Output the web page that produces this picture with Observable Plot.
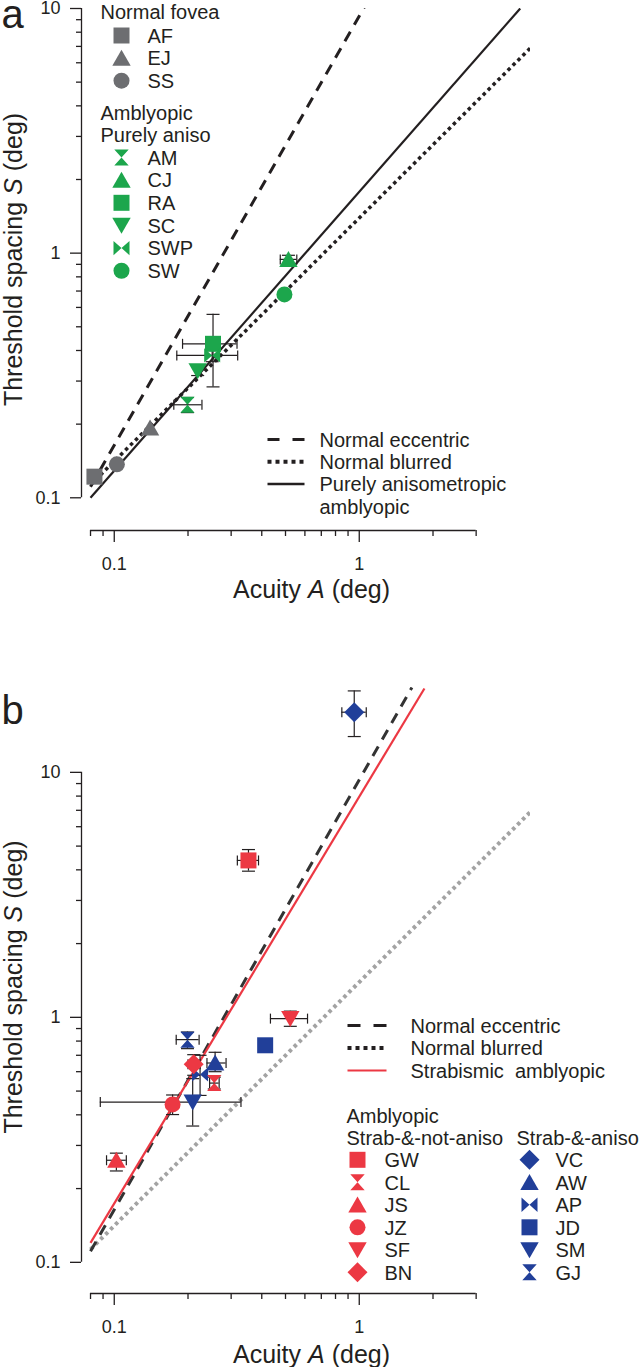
<!DOCTYPE html>
<html>
<head>
<meta charset="utf-8">
<script src="https://cdn.jsdelivr.net/npm/d3@7"></script>
<script src="https://cdn.jsdelivr.net/npm/@observablehq/plot@0.6"></script>
<style>
  body { margin: 0; background: #fff; }
  #chart svg { display: block; }
</style>
</head>
<body>
<div id="chart"></div>
<script>
// ===================== DATA =====================
// Panel a
const aSubjects   = ["AF", "EJ", "SS", "AM", "CJ", "RA", "SC", "SWP", "SW"];
const aGroups     = ["Normal fovea", "Normal fovea", "Normal fovea",
                     "Purely aniso", "Purely aniso", "Purely aniso", "Purely aniso", "Purely aniso", "Purely aniso"];
const aAcuity     = [0.083, 0.140, 0.1025, 0.199, 0.514, 0.253, 0.219, 0.251, 0.495];
const aAcuityLo   = [null, null, null, 0.175, 0.476, 0.190, null, 0.180, null];
const aAcuityHi   = [null, null, null, 0.228, 0.556, 0.317, null, 0.319, null];
const aSpacing    = [0.122, 0.193, 0.137, 0.240, 0.943, 0.426, 0.330, 0.382, 0.678];
const aSpacingLo  = [null, null, null, 0.223, 0.900, 0.284, 0.316, 0.360, null];
const aSpacingHi  = [null, null, null, 0.257, 0.980, 0.562, 0.348, 0.400, null];

// Panel b
const bSubjects   = ["GW", "CL", "JS", "JZ", "SF", "BN", "VC", "AW", "AP", "JD", "SM", "GJ"];
const bGroups     = ["Strab-&-not-aniso", "Strab-&-not-aniso", "Strab-&-not-aniso",
                     "Strab-&-not-aniso", "Strab-&-not-aniso", "Strab-&-not-aniso",
                     "Strab-&-aniso", "Strab-&-aniso", "Strab-&-aniso",
                     "Strab-&-aniso", "Strab-&-aniso", "Strab-&-aniso"];
const bAcuity     = [0.353, 0.256, 0.102, 0.173, 0.523, 0.211, 0.954, 0.258, 0.224, 0.413, 0.209, 0.199];
const bAcuityLo   = [0.318, 0.245, 0.093, 0.165, 0.434, 0.200, 0.849, 0.239, null, null, 0.0877, 0.179];
const bAcuityHi   = [0.388, 0.268, 0.112, 0.181, 0.615, 0.224, 1.068, 0.286, null, null, 0.329, 0.222];
const bSpacing    = [4.37, 0.539, 0.261, 0.441, 0.988, 0.643, 17.6, 0.651, 0.585, 0.769, 0.451, 0.811];
const bSpacingLo  = [3.95, 0.510, 0.236, 0.401, 0.919, 0.580, 14.0, 0.600, 0.480, null, 0.360, 0.745];
const bSpacingHi  = [4.84, 0.570, 0.279, 0.482, 1.060, 0.704, 21.5, 0.720, 0.700, null, 0.562, 0.871];

// Fitted lines (end points, acuity A and spacing S)
const eccentricA = [0.08, 1.64];  const eccentricS = [0.111, 22.2];
const blurredA   = [0.08, 5.0];   const blurredS   = [0.113, 6.9];
const anisoA     = [0.08, 4.54];  const anisoS     = [0.100, 10.0];
const strabA     = [0.08, 1.845]; const strabS     = [0.120, 22.0];

// Axis ticks
const majorTicks  = [0.1, 1, 10];
const xMajorTicks = [0.1, 1];
const xMinorTicks = [0.08, 0.09, 0.2, 0.3, 0.4, 0.5, 0.6, 0.7, 0.8, 0.9, 2, 3];
const yMinorTicks = [0.2, 0.3, 0.4, 0.5, 0.6, 0.7, 0.8, 0.9, 2, 3, 4, 5, 6, 7, 8, 9];
const xAxisExtent = [0.08, 3];
const yAxisExtent = [0.1, 10];

// Texts
const xLabel = "Acuity A (deg)";
const yLabel = "Threshold spacing S (deg)";
const aLineLegend = ["Normal eccentric", "Normal blurred", "Purely anisometropic", "amblyopic"];
const bLineLegend = ["Normal eccentric", "Normal blurred", "Strabismic\u00a0 amblyopic"];

// ===================== STYLE =====================
const FONT = "'Liberation Sans', Arial, Helvetica, sans-serif";
const INK = "#231f20", GRAY = "#6d6e71", GREEN = "#1ca64c", RED = "#ec3843", BLUE = "#213f99";
const DOTGRAY = "#a3a3a3", DASHGRAY = "#333333";
const W = 640, ML = 81, MR = 110;
const X_DOMAIN = [0.0735, 5];

const symbolOf = {
  AF: "square", EJ: "triangle", SS: "circle", AM: "hourglass", CJ: "triangle", RA: "square",
  SC: "triangleDown", SWP: "bowtie", SW: "circle",
  GW: "square", CL: "hourglass", JS: "triangle", JZ: "circle", SF: "triangleDown", BN: "diamond",
  VC: "diamond", AW: "triangle", AP: "bowtie", JD: "square", SM: "triangleDown", GJ: "hourglass"
};
const colorOfGroup = {
  "Normal fovea": GRAY, "Purely aniso": GREEN,
  "Strab-&-not-aniso": RED, "Strab-&-aniso": BLUE
};

const R = s => Math.sqrt(s / Math.PI);
const SYM = {
  square: { draw(c, s) { const r = R(s); c.rect(-r, -r, 2 * r, 2 * r); } },
  circle: { draw(c, s) { const r = R(s); c.moveTo(r, 0); c.arc(0, 0, r, 0, 2 * Math.PI); } },
  triangle: { draw(c, s) { const r = R(s);
    c.moveTo(0, -1.05 * r); c.lineTo(1.15 * r, 0.95 * r); c.lineTo(-1.15 * r, 0.95 * r); c.closePath(); } },
  triangleDown: { draw(c, s) { const r = R(s);
    c.moveTo(0, 1.05 * r); c.lineTo(1.15 * r, -0.95 * r); c.lineTo(-1.15 * r, -0.95 * r); c.closePath(); } },
  hourglass: { draw(c, s) { const r = R(s), w = 0.9 * r;
    c.moveTo(-w, -r); c.lineTo(w, -r); c.lineTo(0, 0); c.closePath();
    c.moveTo(-w, r); c.lineTo(w, r); c.lineTo(0, 0); c.closePath(); } },
  bowtie: { draw(c, s) { const r = R(s), w = 0.9 * r;
    c.moveTo(-r, -w); c.lineTo(-r, w); c.lineTo(0, 0); c.closePath();
    c.moveTo(r, -w); c.lineTo(r, w); c.lineTo(0, 0); c.closePath(); } },
  diamond: { draw(c, s) { const r = 1.25 * R(s);
    c.moveTo(0, -r); c.lineTo(r, 0); c.lineTo(0, r); c.lineTo(-r, 0); c.closePath(); } },
  vcap: { draw(c, s) { const r = R(s); c.moveTo(0, -r); c.lineTo(0, r); } },
  hcap: { draw(c, s) { const r = R(s); c.moveTo(-r, 0); c.lineTo(r, 0); } },
  hline: { draw(c, s) { const r = R(s); c.moveTo(-r, 0); c.lineTo(r, 0); } }
};

function makeRows(subjects, groups, A, Alo, Ahi, S, Slo, Shi) {
  return subjects.map((name, i) => ({
    name, group: groups[i], A: A[i], Alo: Alo[i], Ahi: Ahi[i], S: S[i], Slo: Slo[i], Shi: Shi[i]
  }));
}
const pts = (A, S) => A.map((a, i) => ({A: a, S: S[i]}));

function axisMarks(yDomain) {
  return [
    Plot.ruleX([X_DOMAIN[0]], {y1: yAxisExtent[0], y2: yAxisExtent[1], stroke: INK, strokeWidth: 1.3}),
    Plot.ruleY([yDomain[0]], {x1: xAxisExtent[0], x2: xAxisExtent[1], stroke: INK, strokeWidth: 1.3}),
    Plot.axisY({ticks: majorTicks, tickSize: 11, tickPadding: 10, tickFormat: d => String(d),
      fontSize: 18, label: null, stroke: INK, strokeWidth: 1.3}),
    Plot.axisY({ticks: yMinorTicks, tickSize: 5, tickFormat: () => "", label: null, stroke: INK, strokeWidth: 1.3}),
    Plot.axisX({ticks: xMajorTicks, tickSize: 12, tickPadding: 15, tickFormat: d => String(d),
      fontSize: 18, label: null, stroke: INK, strokeWidth: 1.3}),
    Plot.axisX({ticks: xMinorTicks, tickSize: 6, tickFormat: () => "", label: null, stroke: INK, strokeWidth: 1.3})
  ];
}

function errorMarks(rows) {
  const xe = rows.filter(d => d.Alo != null), ye = rows.filter(d => d.Slo != null);
  const o = {stroke: INK, strokeWidth: 1.2};
  return [
    Plot.ruleY(xe, {y: "S", x1: "Alo", x2: "Ahi", ...o}),
    Plot.ruleX(ye, {x: "A", y1: "Slo", y2: "Shi", ...o}),
    Plot.dot(xe, {x: "Alo", y: "S", symbol: SYM.vcap, r: 5, fill: "none", ...o}),
    Plot.dot(xe, {x: "Ahi", y: "S", symbol: SYM.vcap, r: 5, fill: "none", ...o}),
    Plot.dot(ye, {x: "A", y: "Slo", symbol: SYM.hcap, r: 6.5, fill: "none", ...o}),
    Plot.dot(ye, {x: "A", y: "Shi", symbol: SYM.hcap, r: 6.5, fill: "none", ...o})
  ];
}

function pointMarks(rows) {
  return rows.map(d => Plot.dot([d], {x: "A", y: "S", symbol: SYM[symbolOf[d.name]], r: 8,
    fill: colorOfGroup[d.group], stroke: "none"}));
}

function italicize(svg) {
  svg.querySelectorAll("text").forEach(t => {
    if (t.textContent === xLabel) t.innerHTML = 'Acuity <tspan font-style="italic">A</tspan> (deg)';
    if (t.textContent === yLabel) t.innerHTML = 'Threshold spacing <tspan font-style="italic">S</tspan> (deg)';
  });
}

const BUTT = {strokeLinecap: "butt", strokeLinejoin: "miter"};

// ===================== PANEL A =====================
(function () {
  const H = 680, MT = 8, MB = 150;
  const yDomain = [0.0735, 10];
  const at = (px, py) => ({frameAnchor: "top-left", dx: px - ML, dy: py - MT});
  const rows = makeRows(aSubjects, aGroups, aAcuity, aAcuityLo, aAcuityHi, aSpacing, aSpacingLo, aSpacingHi);
  const txt = (s, px, py, size = 20, extra = {}) =>
    Plot.text([s], {text: d => d, ...at(px, py), textAnchor: "start", lineAnchor: "bottom", fontSize: size, fill: INK, ...extra});

  const legendMarks = [];
  legendMarks.push(txt("Normal fovea", 100, 18));
  const normal = rows.filter(d => d.group === "Normal fovea");
  normal.forEach((d, i) => {
    const cy = 35 + i * 22.6;
    legendMarks.push(Plot.dot([0], {...at(121, cy), symbol: SYM[symbolOf[d.name]], r: 8, fill: GRAY, stroke: "none"}));
    legendMarks.push(txt(d.name, 147, cy + 7.2));
  });
  legendMarks.push(txt("Amblyopic", 100, 119));
  legendMarks.push(txt("Purely aniso", 100, 141));
  const aniso = rows.filter(d => d.group === "Purely aniso");
  aniso.forEach((d, i) => {
    const cy = 157 + i * 22.65;
    legendMarks.push(Plot.dot([0], {...at(121, cy), symbol: SYM[symbolOf[d.name]], r: 8, fill: GREEN, stroke: "none"}));
    legendMarks.push(txt(d.name, 147, cy + 7.2));
  });
  // line legend
  const lineStyles = [
    {stroke: INK, strokeWidth: 3, strokeDasharray: "12,13"},
    {stroke: INK, strokeWidth: 4, strokeDasharray: "4,4"},
    {stroke: INK, strokeWidth: 2.5}
  ];
  lineStyles.forEach((st, i) => {
    const cy = 439 + i * 22.3;
    legendMarks.push(Plot.dot([0], {...at(285.5, cy), symbol: SYM.hline, r: 18.5, fill: "none", ...BUTT, ...st}));
  });
  aLineLegend.forEach((s, i) => legendMarks.push(txt(s, 319, 446 + i * 22.3 + (i === 3 ? 1 : 0))));

  const svg = Plot.plot({
    width: W, height: H, marginLeft: ML, marginRight: MR, marginTop: MT, marginBottom: MB,
    style: {fontFamily: FONT, fontSize: "18px", color: INK, background: "white"},
    x: {type: "log", domain: X_DOMAIN},
    y: {type: "log", domain: yDomain},
    marks: [
      ...axisMarks(yDomain),
      Plot.line(pts(eccentricA, eccentricS), {x: "A", y: "S", stroke: INK, strokeWidth: 3, strokeDasharray: "11,8", clip: true, ...BUTT}),
      Plot.line(pts(blurredA, blurredS), {x: "A", y: "S", stroke: INK, strokeWidth: 3.5, strokeDasharray: "3.5,3.5", clip: true, ...BUTT}),
      Plot.line(pts(anisoA, anisoS), {x: "A", y: "S", stroke: INK, strokeWidth: 2.2, clip: true, ...BUTT}),
      ...errorMarks(rows),
      ...pointMarks(rows),
      ...legendMarks,
      txt("a", 1, 27, 40),
      Plot.text([yLabel], {text: d => d, ...at(21, 259), rotate: -90, textAnchor: "middle", lineAnchor: "bottom", fontSize: 25, fill: INK}),
      Plot.text([xLabel], {text: d => d, frameAnchor: "bottom", dx: 311 - (ML + (W - MR)) / 2, dy: 67, textAnchor: "middle", lineAnchor: "bottom", fontSize: 25, fill: INK})
    ]
  });
  italicize(svg);
  document.getElementById("chart").appendChild(svg);
})();

// ===================== PANEL B =====================
(function () {
  const TOP = 680, H = 687, MT = 7, MB = 74;
  const yDomain = [0.0746, 22.2];
  const at = (px, py) => ({frameAnchor: "top-left", dx: px - ML, dy: (py - TOP) - MT});
  const rows = makeRows(bSubjects, bGroups, bAcuity, bAcuityLo, bAcuityHi, bSpacing, bSpacingLo, bSpacingHi);
  const txt = (s, px, py, size = 20, extra = {}) =>
    Plot.text([s], {text: d => d, ...at(px, py), textAnchor: "start", lineAnchor: "bottom", fontSize: size, fill: INK, ...extra});

  const legendMarks = [];
  const lineStyles = [
    {stroke: INK, strokeWidth: 3, strokeDasharray: "13,13"},
    {stroke: INK, strokeWidth: 4, strokeDasharray: "4,4"},
    {stroke: RED, strokeWidth: 2.2}
  ];
  lineStyles.forEach((st, i) => {
    const cy = 1025 + i * 22.5;
    legendMarks.push(Plot.dot([0], {...at(366.5, cy), symbol: SYM.hline, r: 19.5, fill: "none", ...BUTT, ...st}));
  });
  bLineLegend.forEach((s, i) => legendMarks.push(txt(s, 410, 1032 + i * 22.5)));
  legendMarks.push(txt("Amblyopic", 346, 1122));
  legendMarks.push(txt("Strab-&-not-aniso", 346, 1144.5));
  legendMarks.push(txt("Strab-&-aniso", 516, 1144.5));
  const cols = [["Strab-&-not-aniso", 357, 384], ["Strab-&-aniso", 529, 555]];
  cols.forEach(([g, sx, tx]) => {
    rows.filter(d => d.group === g).forEach((d, i) => {
      const cy = 1159.3 + i * 22.5;
      legendMarks.push(Plot.dot([0], {...at(sx, cy), symbol: SYM[symbolOf[d.name]], r: 8, fill: colorOfGroup[g], stroke: "none"}));
      legendMarks.push(txt(d.name, tx, cy + 7.2));
    });
  });

  const ordered = [...rows.filter(d => d.group === "Strab-&-aniso"), ...rows.filter(d => d.group === "Strab-&-not-aniso")];

  const svg = Plot.plot({
    width: W, height: H, marginLeft: ML, marginRight: MR, marginTop: MT, marginBottom: MB,
    style: {fontFamily: FONT, fontSize: "18px", color: INK, background: "white"},
    x: {type: "log", domain: X_DOMAIN},
    y: {type: "log", domain: yDomain},
    marks: [
      ...axisMarks(yDomain),
      Plot.line(pts(blurredA, blurredS), {x: "A", y: "S", stroke: DOTGRAY, strokeWidth: 4, strokeDasharray: "3.5,3.5", clip: true, ...BUTT}),
      Plot.line(pts(eccentricA, eccentricS), {x: "A", y: "S", stroke: DASHGRAY, strokeWidth: 3, strokeDasharray: "11,8", clip: true, ...BUTT}),
      Plot.line(pts(strabA, strabS), {x: "A", y: "S", stroke: RED, strokeWidth: 2.2, clip: true, ...BUTT}),
      ...errorMarks(rows),
      ...pointMarks(ordered),
      ...legendMarks,
      txt("b", 1, 723, 40),
      Plot.text([yLabel], {text: d => d, ...at(21, 986.5), rotate: -90, textAnchor: "middle", lineAnchor: "bottom", fontSize: 25, fill: INK}),
      Plot.text([xLabel], {text: d => d, frameAnchor: "bottom", dx: 311 - (ML + (W - MR)) / 2, dy: 69, textAnchor: "middle", lineAnchor: "bottom", fontSize: 25, fill: INK})
    ]
  });
  italicize(svg);
  document.getElementById("chart").appendChild(svg);
})();
</script>
</body>
</html>
